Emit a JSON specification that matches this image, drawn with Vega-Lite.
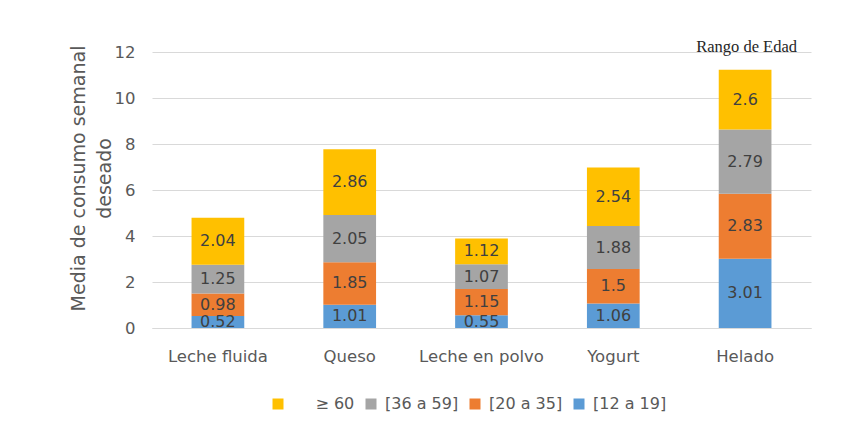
{
  "$schema": "https://vega.github.io/schema/vega-lite/v6.json",
  "width": 659,
  "height": 276,
  "autosize": {"type": "none"},
  "padding": {"left": 152, "top": 52, "right": 57, "bottom": 104},
  "background": "white",
  "title": {"text": "Rango de Edad", "anchor": "end", "frame": "group", "font": "Liberation Serif", "fontSize": 16.5, "fontWeight": "normal", "color": "#262626", "dx": -14, "dy": 31, "baseline": "bottom"},
  "data": {"values": [
    {"cat": "Leche fluida", "grupo": "[12  a  19]", "ord": 1, "v": 0.52},
    {"cat": "Leche fluida", "grupo": "[20 a 35]", "ord": 2, "v": 0.98},
    {"cat": "Leche fluida", "grupo": "[36 a 59]", "ord": 3, "v": 1.25},
    {"cat": "Leche fluida", "grupo": "≥60", "ord": 4, "v": 2.04},
    {"cat": "Queso", "grupo": "[12  a  19]", "ord": 1, "v": 1.01},
    {"cat": "Queso", "grupo": "[20 a 35]", "ord": 2, "v": 1.85},
    {"cat": "Queso", "grupo": "[36 a 59]", "ord": 3, "v": 2.05},
    {"cat": "Queso", "grupo": "≥60", "ord": 4, "v": 2.86},
    {"cat": "Leche en polvo", "grupo": "[12  a  19]", "ord": 1, "v": 0.55},
    {"cat": "Leche en polvo", "grupo": "[20 a 35]", "ord": 2, "v": 1.15},
    {"cat": "Leche en polvo", "grupo": "[36 a 59]", "ord": 3, "v": 1.07},
    {"cat": "Leche en polvo", "grupo": "≥60", "ord": 4, "v": 1.12},
    {"cat": "Yogurt", "grupo": "[12  a  19]", "ord": 1, "v": 1.06},
    {"cat": "Yogurt", "grupo": "[20 a 35]", "ord": 2, "v": 1.5},
    {"cat": "Yogurt", "grupo": "[36 a 59]", "ord": 3, "v": 1.88},
    {"cat": "Yogurt", "grupo": "≥60", "ord": 4, "v": 2.54},
    {"cat": "Helado", "grupo": "[12  a  19]", "ord": 1, "v": 3.01},
    {"cat": "Helado", "grupo": "[20 a 35]", "ord": 2, "v": 2.83},
    {"cat": "Helado", "grupo": "[36 a 59]", "ord": 3, "v": 2.79},
    {"cat": "Helado", "grupo": "≥60", "ord": 4, "v": 2.6}
  ]},
  "transform": [
    {"stack": "v", "groupby": ["cat"], "sort": [{"field": "ord", "order": "ascending"}], "as": ["y0", "y1"]},
    {"calculate": "(datum.y0 + datum.y1) / 2", "as": "ymid"}
  ],
  "encoding": {
    "x": {"field": "cat", "type": "nominal", "sort": ["Leche fluida", "Queso", "Leche en polvo", "Yogurt", "Helado"],
      "scale": {"paddingInner": 0.6, "paddingOuter": 0.3},
      "axis": {"title": null, "labelAngle": 0, "ticks": false, "domain": true, "domainColor": "#D9D9D9", "labelPadding": 20, "labelFont": "DejaVu Sans", "labelFontSize": 16.5, "labelColor": "#595959"}}
  },
  "layer": [
    {
      "mark": {"type": "bar"},
      "encoding": {
        "y": {"field": "y0", "type": "quantitative", "scale": {"domain": [0, 12]},
          "axis": {"title": ["Media de consumo semanal", "deseado"], "values": [0, 2, 4, 6, 8, 10, 12], "domain": false, "ticks": false, "gridColor": "#D9D9D9", "labelPadding": 17, "labelFont": "DejaVu Sans", "labelFontSize": 16.5, "labelColor": "#595959", "titleFont": "DejaVu Sans", "titleFontSize": 19, "titleFontWeight": "normal", "titleColor": "#595959", "titlePadding": 0, "titleLineHeight": 26, "titleY": 126}},
        "y2": {"field": "y1"},
        "color": {"field": "grupo", "type": "nominal",
          "scale": {"domain": ["≥60", "[36 a 59]", "[20 a 35]", "[12  a  19]"], "range": ["#FFC000", "#A5A5A5", "#ED7D31", "#5B9BD5"]},
          "legend": {"title": null, "orient": "none", "legendX": 118, "legendY": 344, "direction": "horizontal", "columns": 4, "symbolType": "square", "symbolSize": 121, "symbolStrokeWidth": 0, "labelFont": "DejaVu Sans", "labelFontSize": 16, "labelColor": "#595959", "columnPadding": 8, "labelOffset": 6,
            "labelExpr": "datum.label == '≥60' ? '\u2800\u2800≥ 60' : datum.label"}}
      }
    },
    {
      "mark": {"type": "text", "font": "DejaVu Sans", "fontSize": 16, "color": "#404040"},
      "encoding": {
        "y": {"field": "ymid", "type": "quantitative"},
        "text": {"field": "v", "type": "quantitative"}
      }
    }
  ],
  "config": {"view": {"stroke": null}}
}
